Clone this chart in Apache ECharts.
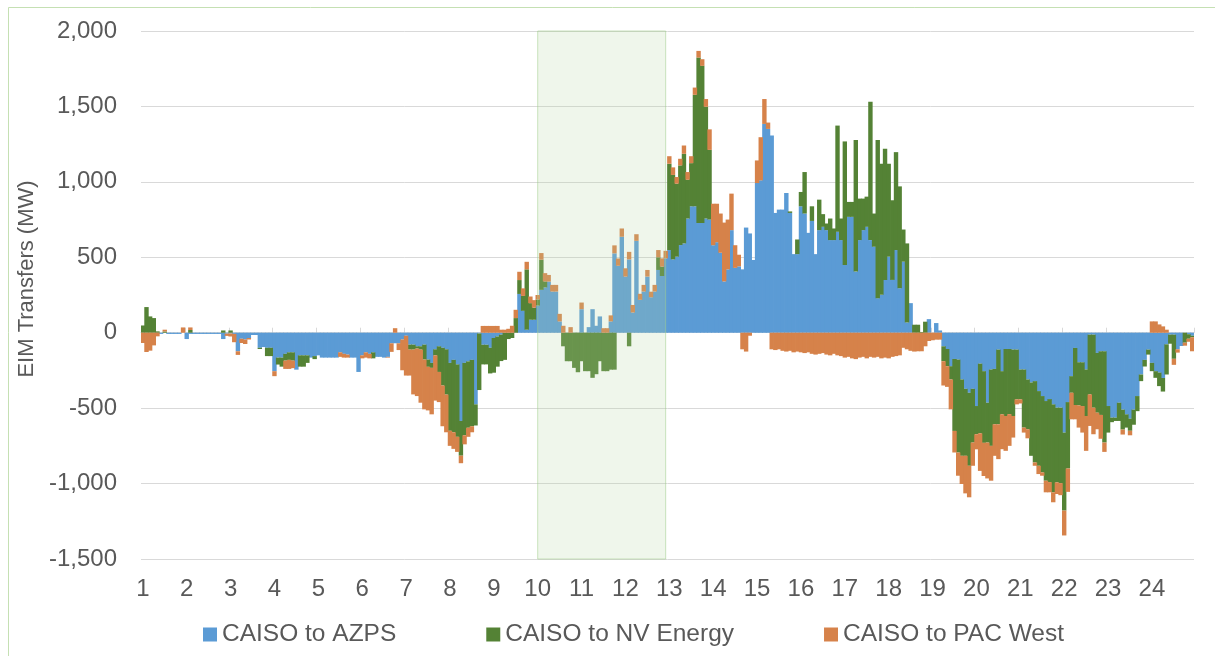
<!DOCTYPE html>
<html><head><meta charset="utf-8">
<script src="https://cdn.jsdelivr.net/npm/echarts@6/dist/echarts.min.js"></script>
<style>html,body{margin:0;padding:0;background:#fff}#c{width:1215px;height:656px}</style>
</head><body><div id="c"></div>
<script>
// Hour tick labels (x axis) – each hour holds twelve 5-minute intervals
const hourLabels = ['1','2','3','4','5','6','7','8','9','10','11','12','13','14','15','16','17','18','19','20','21','22','23','24'];
const intervalsPerHour = 12;
const seriesNames = ['CAISO to AZPS', 'CAISO to NV Energy', 'CAISO to PAC West'];
const yTickValues = [-1500, -1000, -500, 0, 500, 1000, 1500, 2000];
// highlighted period (first and last 5-minute interval)
const highlightStart = '10:00';
const highlightEnd = '12:55';

// CAISO to AZPS (MW), 5-minute intervals, hours 1..24
const azps = [
  0,0,0,0,0,-8,0,-8,-8,-8,-8,0,
  -42,-8,-8,-8,-8,-8,-8,-8,-8,-8,-42,-6,
  -5,-8,-123,-40,-45,-35,-15,-15,-100,-95,-100,-100,
  -255,-165,-165,-140,-130,-130,-245,-150,-150,-150,-165,-155,
  -150,-165,-165,-165,-165,-165,-130,-140,-145,-165,-165,-260,
  -150,-130,-140,-130,-160,-160,-165,-160,-70,-70,-70,-45,
  -20,-79,-79,-90,-90,-79,-178,-200,-110,-90,-100,-110,
  -200,-180,-210,-585,-200,-190,-180,-475,-5,-80,-80,-100,
  -35,-25,-13,0,0,0,0,257,145,20,86,86,
  180,284,300,339,273,273,75,0,0,0,0,0,
  156,0,37,156,46,108,0,0,75,526,444,636,
  372,486,134,609,218,273,372,235,273,416,376,493,
  548,486,504,581,592,757,838,838,728,728,757,750,
  580,600,530,340,420,680,430,440,420,697,658,482,
  992,1010,1384,1351,1307,794,816,816,926,794,521,521,
  838,790,662,741,521,680,702,680,614,614,669,614,
  449,768,768,405,614,680,702,614,570,229,251,350,
  504,350,548,295,471,68,196,0,0,0,0,90,
  0,64,15,-90,-108,-222,-174,-178,-310,-372,-398,-372,
  -486,-205,-255,-464,-244,-240,-112,-255,-108,-108,-112,-112,
  -244,-244,-310,-330,-321,-387,-420,-453,-440,-475,-497,-497,
  -662,-460,-288,-101,-196,-196,-244,-13,-13,-134,-123,-123,
  -486,-563,-563,-464,-510,-541,-570,-510,-420,-277,-180,-112,
  -200,-255,-264,-300,-77,-13,-13,-110,-88,0,-10,-20
];

// CAISO to NV Energy (MW)
const nvEnergy = [
  48,170,108,97,9,0,8,0,0,0,0,0,
  0,18,0,0,0,0,0,0,0,0,15,0,
  15,0,0,0,0,0,0,0,-8,0,-55,-55,
  0,-46,-60,-45,-50,-55,0,-75,-75,-50,0,-20,
  0,0,0,0,0,0,0,0,0,0,0,0,
  0,0,0,-40,0,0,0,0,0,0,0,0,
  0,-33,-33,-15,-22,-99,-48,-33,-40,-170,-250,-300,
  -450,-480,-480,-230,-480,-440,-440,-140,-375,-130,-130,-170,
  -230,-200,-175,-180,-42,-35,97,92,99,400,110,80,
  40,200,40,0,0,0,0,-90,-189,-189,-233,-262,
  -189,-255,-255,-299,-275,-189,-255,-255,-245,-245,0,0,
  0,-90,0,0,0,0,0,0,0,84,62,0,
  572,560,484,528,594,257,286,739,1096,1041,741,462,
  0,0,0,0,0,0,0,0,0,0,0,0,
  0,0,0,0,0,0,0,0,0,10,0,97,
  95,275,0,97,0,202,84,44,143,77,704,143,
  819,99,99,873,275,209,200,917,220,1049,869,869,
  616,528,649,675,213,524,0,53,53,5,73,0,
  0,0,0,-99,-114,-88,-477,-616,-506,-444,-484,-356,
  -187,-462,-475,-264,-506,-367,-495,-286,-444,-432,-440,-330,
  -198,-385,-330,-486,-539,-495,-506,-528,-550,-583,-495,-500,
  -517,-440,-110,-378,-286,-290,-308,-396,-484,-396,-422,-605,
  -176,-30,-22,-121,-132,-88,-80,-100,-100,-44,-44,-33,
  -55,-44,-90,-90,-200,-60,-160,0,0,-66,-30,-10
];

// CAISO to PAC West (MW)
const pacWest = [
  -68,-128,-119,-84,-24,0,12,0,0,0,0,35,
  0,17,0,0,0,0,0,0,0,0,0,-15,
  -20,-55,-24,-28,-30,-10,0,0,0,0,0,0,
  -33,0,0,-55,-60,-50,0,0,0,0,0,0,
  0,0,0,0,0,0,-30,-25,-20,0,0,0,
  -20,-35,-30,0,0,0,0,-5,-57,30,-45,-204,
  -264,-172,-297,-315,-352,-330,-289,-308,-300,-200,-270,-250,
  -100,-110,-100,-50,-60,-60,-40,0,0,45,45,45,
  45,45,20,20,26,46,55,55,50,50,44,50,
  30,44,55,44,44,44,50,46,0,37,0,0,
  44,0,0,0,0,0,30,30,40,53,48,55,
  55,50,50,44,40,44,44,37,44,48,55,50,
  50,50,44,44,55,51,46,48,44,44,51,136,
  275,255,260,390,330,242,150,77,-110,-125,-20,0,
  150,286,165,42,-110,-115,-110,-120,-125,-120,-130,-125,
  -130,-135,-130,-140,-145,-140,-135,-145,-150,-140,-150,-155,
  -165,-160,-170,-175,-165,-160,-170,-160,-165,-160,-170,-165,
  -170,-160,-155,-150,-100,-110,-120,-125,-123,-123,-90,-55,
  -50,-46,-46,-161,-137,-198,-143,-154,-187,-249,-209,-154,
  -100,-249,-220,-238,-231,-209,-231,-231,-231,-210,-143,-33,
  -27,-33,-60,0,-22,-55,-22,-77,-68,-66,-77,-80,
  -165,-155,-176,-95,-147,-176,-231,-209,-176,-110,-158,-62,
  0,0,0,0,-33,0,-30,0,0,0,0,0,
  75,75,55,42,20,0,-40,-22,0,-20,-20,-93
];

// 5-minute interval categories built from the hour labels
const intervals = [];
hourLabels.forEach(h => { for (let k = 0; k < intervalsPerHour; k++) intervals.push(h + ':' + String(k * 5).padStart(2, '0')); });

const FONT = "'Liberation Sans', Arial, sans-serif";
const colors = ['#5b9bd5', '#548235', '#d6824a'];
const valuesBySeries = [azps, nvEnergy, pacWest];

const chart = echarts.init(document.getElementById('c'), null, {renderer: 'canvas'});
const barSeries = seriesNames.map((name, i) => ({
  name, type: 'bar', stack: 'total', xAxisIndex: 0, yAxisIndex: 0,
  // slightly wider than the 5-minute band so adjacent bars meet without seams
  barWidth: 4.4, z: 2,
  itemStyle: {color: colors[i]},
  emphasis: {disabled: true},
  // a zero transfer draws no segment
  data: valuesBySeries[i].map(v => (v === 0 ? '-' : v))
}));

chart.setOption({
  animation: false,
  textStyle: {fontFamily: FONT},
  grid: {left: 141, right: 21, top: 31, bottom: 97, containLabel: false},
  legend: {
    data: seriesNames, left: 203, top: 622, padding: 0, itemGap: 90,
    itemWidth: 14, itemHeight: 14, icon: 'rect',
    textStyle: {fontSize: 24.5, color: '#595959', fontFamily: FONT}
  },
  xAxis: [
    {
      type: 'category', data: intervals, boundaryGap: true,
      axisLine: {show: true, onZero: true, lineStyle: {color: '#d9d9d9', width: 1}},
      axisTick: {show: true, inside: true, interval: intervalsPerHour - 1, length: 5, lineStyle: {color: '#d9d9d9'}},
      axisLabel: {show: false}, splitLine: {show: false}
    },
    {
      type: 'category', data: intervals, boundaryGap: true, position: 'bottom',
      axisLine: {show: false, onZero: false}, axisTick: {show: false}, splitLine: {show: false},
      axisLabel: {
        interval: intervalsPerHour - 1, margin: 18, fontSize: 24, color: '#595959', fontFamily: FONT,
        formatter: (v, idx) => hourLabels[Math.floor(idx / intervalsPerHour)]
      }
    }
  ],
  yAxis: {
    type: 'value', min: yTickValues[0], max: yTickValues[yTickValues.length - 1], interval: 500,
    name: 'EIM Transfers (MW)', nameLocation: 'middle', nameGap: 94,
    nameTextStyle: {fontSize: 22, color: '#595959', fontFamily: FONT, padding: [0, 0, 0, 32]},
    axisLine: {show: false}, axisTick: {show: false},
    axisLabel: {fontSize: 24, color: '#595959', margin: 24, fontFamily: FONT,
      formatter: v => v.toLocaleString('en-US')},
    splitLine: {lineStyle: {color: '#d9d9d9', width: 1}}
  },
  series: barSeries.concat([{
    type: 'line', data: [], xAxisIndex: 0, yAxisIndex: 0, z: 10, silent: true,
    markArea: {
      silent: true, z: 20,
      itemStyle: {color: 'rgba(180,215,165,0.22)', borderColor: 'rgba(160,205,140,0.55)', borderWidth: 1},
      data: [[{xAxis: highlightStart}, {xAxis: highlightEnd}]]
    }
  }]),
  graphic: [{
    type: 'rect', silent: true, z: 100,
    shape: {x: 8.5, y: 7.5, width: 1400, height: 900},
    style: {fill: 'none', stroke: '#c5e0b3', lineWidth: 1}
  }]
});
</script></body></html>
